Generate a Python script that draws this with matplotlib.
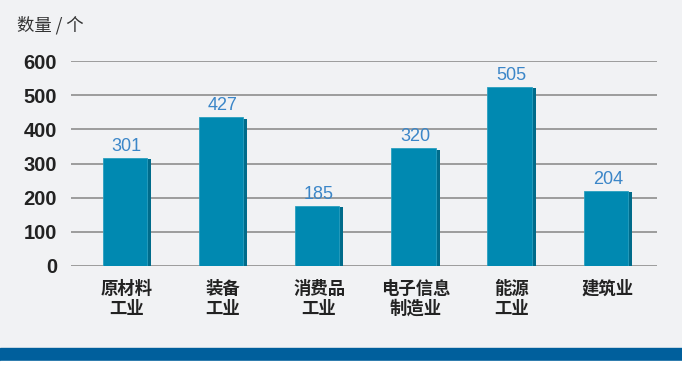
import matplotlib
matplotlib.use("Agg")
from matplotlib import pyplot as plt
from matplotlib.patches import Rectangle

plt.rcParams['font.family'] = ['Liberation Sans', 'Noto Sans CJK SC', 'DejaVu Sans']

# 数据
categories = ["原材料\n工业", "装备\n工业", "消费品\n工业", "电子信息\n制造业", "能源\n工业", "建筑业"]
values = [301, 427, 185, 320, 505, 204]
# 原图中柱子的实际高度(与标注略有出入)
bar_heights = [317, 436, 176, 345, 525, 219]
yticks = [0, 100, 200, 300, 400, 500, 600]

bg = "#f1f2f4"
front = "#0089b1"
side = "#006b8a"
label_blue = "#3b86c8"

fig = plt.figure(figsize=(6.82, 3.66), dpi=100, facecolor=bg)
ax = fig.add_axes([0.104, 0.274, 0.859, 0.5585], facecolor=bg)

x = list(range(len(categories)))
w = 0.46
ax.bar([i + w / 2 + 0.02 for i in x], bar_heights, width=0.045, bottom=-4,
       color=side, zorder=2)
ax.bar(x, bar_heights, width=w, color=front, zorder=3,
       edgecolor="#2aa0c0", linewidth=0.6)

for i, (v, h) in enumerate(zip(values, bar_heights)):
    ax.text(i + 0.02, h + 8, str(v), ha='center', va='bottom',
            fontsize=13, color=label_blue, zorder=4)

ax.set_xlim(-0.56, 5.53)
ax.set_ylim(0, 600)
ax.set_yticks(yticks)
ax.set_yticklabels([str(t) for t in yticks], fontsize=14.5, fontweight='bold', color="#222222")
ax.set_xticks([i + 0.02 for i in x])
ax.set_xticklabels(categories, family=['Noto Sans CJK SC', 'DejaVu Sans'],
                   fontsize=12.5, fontweight='bold', color="#222222", linespacing=1.15)
ax.tick_params(axis='y', length=0, pad=10)
ax.tick_params(axis='x', length=0, pad=10)
ax.grid(axis='y', color="#9c9c9c", linewidth=1.4, zorder=0)
ax.set_axisbelow(True)
for s in ax.spines.values():
    s.set_visible(False)

fig.text(17 / 682, 1 - 25 / 366, "数量 / 个", family=['Noto Sans CJK SC', 'DejaVu Sans'],
         fontsize=12.5, color="#333333", va='center', ha='left')

# 底部蓝色条
fig.patches.append(Rectangle((0, 5 / 366), 1, 13 / 366, transform=fig.transFigure,
                             color="#005f9c", zorder=0))
fig.patches.append(Rectangle((0, 0), 1, 5 / 366, transform=fig.transFigure,
                             color="white", zorder=0))

fig.savefig("out.png", dpi=100, facecolor=bg)
